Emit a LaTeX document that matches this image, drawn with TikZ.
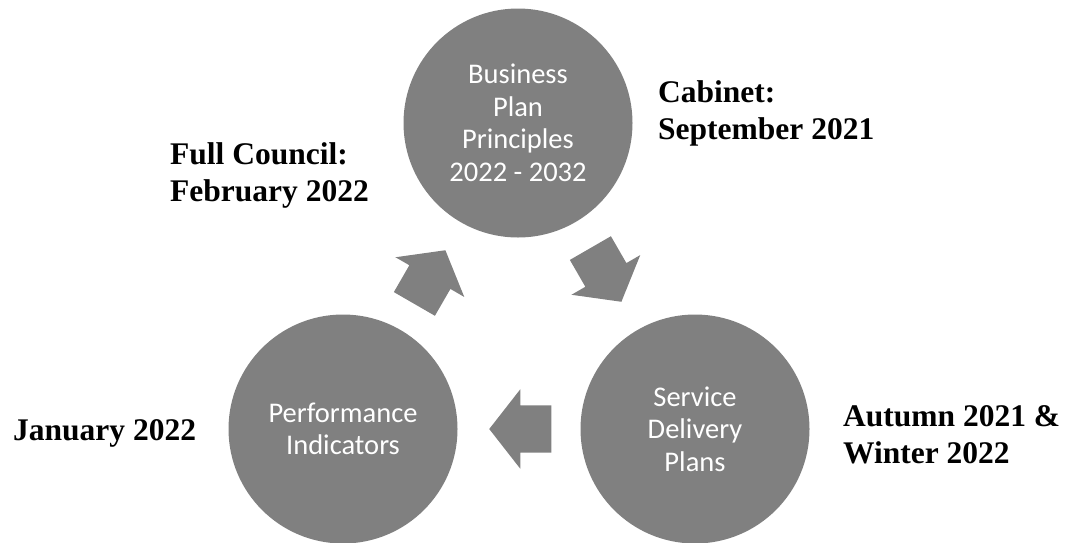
\documentclass[tikz,border=0pt]{standalone}
\usepackage{fontspec}
\setmainfont{Liberation Serif}
\newfontfamily\circfont{Carlito}
\usetikzlibrary{shapes.arrows,calc}
\definecolor{cyclegray}{RGB}{128,128,128}

\begin{document}
\begin{tikzpicture}[x=1pt,y=-1pt,
        stage/.style={circle,fill=cyclegray,minimum size=229pt,inner sep=0pt,text=white,align=center,font=\circfont\fontsize{28.5}{32.5}\selectfont},
        turn/.style={single arrow,fill=cyclegray,minimum height=62pt,inner xsep=0pt,inner ysep=23.5pt,single arrow head extend=16pt,single arrow tip angle=104,rotate=#1,xshift=-10.5pt},
        date/.style={align=left,anchor=base west,inner sep=0pt,font=\fontsize{31.5}{37}\selectfont\bfseries}]
  \useasboundingbox (0,0) rectangle (1067,542);
  \node[stage] (bp) at (518,123) {Business\\Plan\\Principles\\2022 - 2032};
  \node[stage] (sd) at (695,429) {Service\\Delivery\\Plans};
  \node[stage] (pi) at (343,429) {Performance\\Indicators};
  \node[turn=-60] (bp2sd) at ($(bp)!0.5!(sd)$) {};
  \node[turn=180] (sd2pi) at ($(sd)!0.5!(pi)$) {};
  \node[turn=60] (pi2bp) at ($(pi)!0.5!(bp)$) {};
  \node[date] (cab) at (658,139) {Cabinet:\\September 2021};
  \node[date] (aut) at (843,463) {Autumn 2021 \&\\Winter 2022};
  \node[date] (jan) at (13,440) {January 2022};
  \node[date] (fc) at (170,201) {Full Council:\\February 2022};
  %\node[date] at (13,476) {};
\end{tikzpicture}
\end{document}
